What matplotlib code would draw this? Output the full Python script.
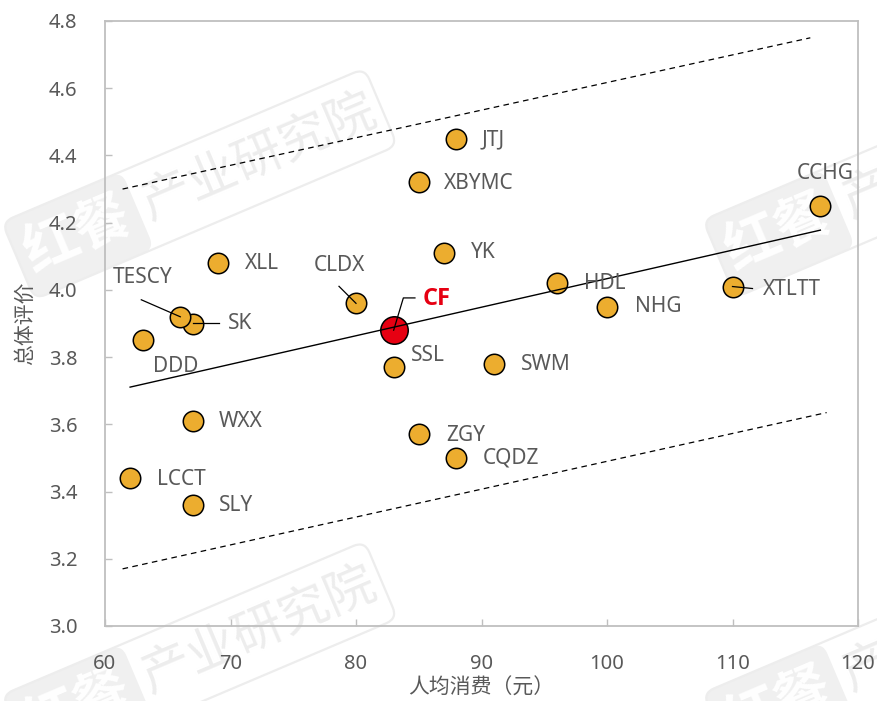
import numpy as np
import matplotlib
matplotlib.use("Agg")
import matplotlib.pyplot as plt
import matplotlib.transforms as mtransforms
from matplotlib.patches import FancyBboxPatch
from matplotlib.lines import Line2D

plt.rcParams["font.family"] = ["Noto Sans", "Noto Sans CJK SC", "DejaVu Sans"]

# ---- data -------------------------------------------------------------
brands = ["JTJ", "XBYMC", "YK", "XLL", "CLDX", "SK", "TESCY", "DDD", "SSL",
          "SWM", "HDL", "NHG", "XTLTT", "CCHG", "WXX", "ZGY", "CQDZ", "LCCT",
          "SLY", "CF"]
spend = [88, 85, 87, 69, 80, 67, 66, 63, 83, 91, 96, 100, 110, 117, 67, 85,
         88, 62, 67, 83]
rating = [4.45, 4.32, 4.11, 4.08, 3.96, 3.90, 3.92, 3.85, 3.77, 3.78, 4.02,
          3.95, 4.01, 4.25, 3.61, 3.57, 3.50, 3.44, 3.36, 3.88]
highlight = "CF"

upper_x = [61.4, 116.2]
upper_y = [4.30, 4.75]
lower_x = [61.4, 117.5]
lower_y = [3.17, 3.635]

x_ticks = [60, 70, 80, 90, 100, 110, 120]
y_ticks = [3.0, 3.2, 3.4, 3.6, 3.8, 4.0, 4.2, 4.4, 4.6, 4.8]
x_title = "人均消费（元）"
y_title = "总体评价"
watermark_logo = "红餐"
watermark_name = "产业研究院"

# ---- label placement (pixel offsets from each point) -------------------
label_pos = {
    "JTJ": (25, -1, "left"), "XBYMC": (25, -1, "left"), "YK": (27, 0, "left"),
    "XLL": (27, -1, "left"), "CLDX": (-17, 38, "center"),
    "TESCY": (-38, 39, "center"), "SK": (35, 0, "left"),
    "DDD": (10, -26, "left"), "SSL": (17, 12, "left"),
    "SWM": (27, -1, "left"), "HDL": (27, 0, "left"), "NHG": (28, 0, "left"),
    "XTLTT": (30, -3, "left"), "CCHG": (5, 32, "center"),
    "WXX": (26, -1, "left"), "ZGY": (27, -1, "left"), "CQDZ": (26, 0, "left"),
    "LCCT": (27, -1, "left"), "SLY": (26, -1, "left"), "CF": (29, 31, "left"),
}
leaders = {
    "TESCY": [(0, 0), (-39, 17)],
    "SK": [(0, 0), (26, 0)],
    "CLDX": [(0, 0), (-17, 17)],
    "XTLTT": [(0, 0), (20, -2)],
    "CF": [(0, 0), (9.7, 32.3), (21.3, 32.3)],
}

W, H, DPI = 877, 701, 100
fig = plt.figure(figsize=(W / DPI, H / DPI), dpi=DPI)
fig.patch.set_facecolor("white")
ax = fig.add_axes([105 / W, 1 - 626 / H, (858 - 105) / W, (626 - 21) / H])
ax.set_facecolor("none")

GRAY = "#595959"
SPINE = "#bfbfbf"
ORANGE = "#ECAD2F"
RED = "#E60012"

# ---- markers ------------------------------------------------------------
xs = np.array(spend, dtype=float)
ys = np.array(rating, dtype=float)
is_hi = np.array([b == highlight for b in brands])
ax.scatter(xs[~is_hi], ys[~is_hi], s=217, c=ORANGE, edgecolors="black",
           linewidths=1.1, zorder=2)
ax.scatter(xs[is_hi], ys[is_hi], s=391, c=RED, edgecolors="black",
           linewidths=1.1, zorder=2.5)

# ---- least-squares trend and guide bands --------------------------------
slope, icpt = np.polyfit(xs, ys, 1)
tx = np.array([xs.min(), xs.max()])
ax.plot(tx, slope * tx + icpt, color="black", lw=1.0, zorder=3)
for bx, by in ((upper_x, upper_y), (lower_x, lower_y)):
    ax.plot(bx, by, color="black", lw=0.9, dashes=(4.5, 3.5), zorder=3)

# ---- labels and leader lines --------------------------------------------
for name, x, y in zip(brands, xs, ys):
    dx, dy, ha = label_pos[name]
    if name == highlight:
        ax.annotate(name, (x, y), xytext=(dx, dy), textcoords="offset pixels",
                    ha=ha, va="center", fontsize=17, fontweight="bold",
                    color=RED, zorder=5, family=["Open Sans", "DejaVu Sans"])
    else:
        ax.annotate(name, (x, y), xytext=(dx, dy), textcoords="offset pixels",
                    ha=ha, va="center", fontsize=15, color=GRAY, zorder=5)
    if name in leaders:
        pts = np.array(leaders[name], dtype=float)
        tr = mtransforms.Affine2D() + mtransforms.ScaledTranslation(x, y, ax.transData)
        ax.add_line(Line2D(pts[:, 0], pts[:, 1], transform=tr, color="black",
                           lw=0.9, zorder=4, clip_on=False))

# ---- axes styling --------------------------------------------------------
ax.set_xlim(60, 120)
ax.set_ylim(3.0, 4.8)
ax.set_xticks(x_ticks)
ax.set_yticks(y_ticks)
ax.set_yticklabels([f"{v:.1f}" for v in y_ticks])
for sp in ax.spines.values():
    sp.set_color(SPINE)
    sp.set_linewidth(1.3)
ax.tick_params(direction="in", length=5, width=1, color=SPINE,
               labelcolor=GRAY, labelsize=14.5)
ax.tick_params(axis="x", pad=20)
ax.tick_params(axis="y", pad=20)
ax.set_xlabel(x_title, fontsize=15, color=GRAY, labelpad=3)
ax.set_ylabel(y_title, fontsize=15, color=GRAY, labelpad=9)

# ---- faint brand watermark, tiled ----------------------------------------
def watermark(px, py, angle=23):
    base = mtransforms.Affine2D().rotate_deg(angle).translate(px, H - py)
    fill = FancyBboxPatch((-130, -42), 130, 84,
                          boxstyle="round,pad=0,rounding_size=12",
                          fc="#f0f0f0", ec="none", transform=base, zorder=-2)
    frame = FancyBboxPatch((-130, -42), 394, 84,
                           boxstyle="round,pad=0,rounding_size=12",
                           fc="none", ec="#ededed", lw=1.6, transform=base,
                           zorder=-2)
    fig.add_artist(fill)
    fig.add_artist(frame)
    fig.text(-65, 0, watermark_logo, transform=base, rotation=angle,
             rotation_mode="anchor", ha="center", va="center", fontsize=40,
             fontweight="bold", color="white", zorder=-1,
             family=["Noto Sans CJK SC"])
    fig.text(132, 0, watermark_name, transform=base, rotation=angle,
             rotation_mode="anchor", ha="center", va="center", fontsize=36,
             color="#ededed", zorder=-1, family=["Noto Sans CJK SC"])

for ax_px, ax_py in [(138, 210), (138, 683), (839, 208), (839, 681)]:
    watermark(ax_px, ax_py)

fig.savefig("out.png", dpi=DPI)
